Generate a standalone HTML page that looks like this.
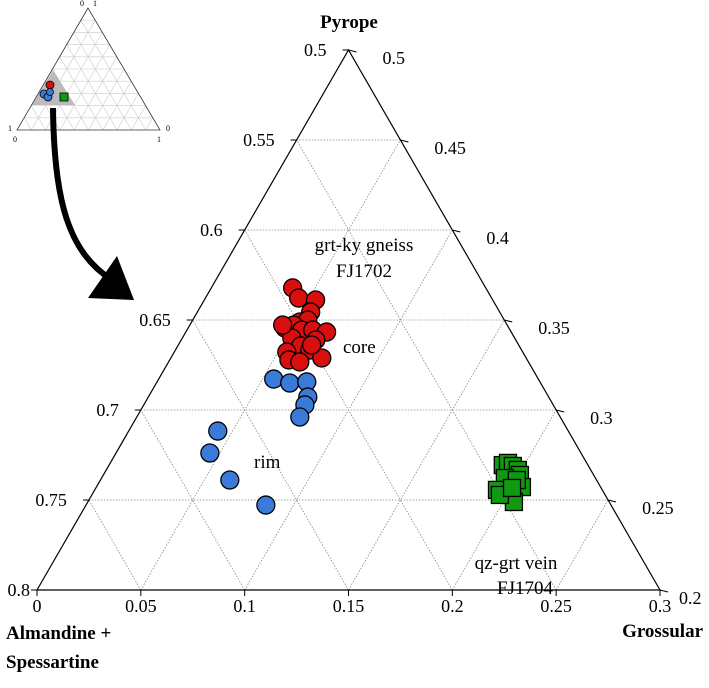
<!DOCTYPE html>
<html><head><meta charset="utf-8">
<style>
html,body{margin:0;padding:0;background:#fff;}
svg{display:block;font-family:"Liberation Serif",serif;}
</style></head>
<body>
<svg id="chart" width="709" height="688" viewBox="0 0 709 688" xmlns="http://www.w3.org/2000/svg">
<g id="inset"></g>
<path d="M53,108 C54,200 68,252 112,280" fill="none" stroke="#000" stroke-width="6"/>
<polygon points="88,298 134,300 117,256" fill="#000"/>
<g id="grid"></g>
<g id="axes"></g>
<g id="marks"></g>
<text x="349" y="28" text-anchor="middle" font-size="19" font-weight="bold">Pyrope</text>
<text x="6" y="639" font-size="19" font-weight="bold">Almandine +</text>
<text x="6" y="668" font-size="19" font-weight="bold">Spessartine</text>
<text x="703" y="637" text-anchor="end" font-size="19" font-weight="bold">Grossular</text>
<text x="364" y="251" text-anchor="middle" font-size="19">grt-ky gneiss</text>
<text x="364" y="277" text-anchor="middle" font-size="19">FJ1702</text>
<text x="343" y="353" font-size="19">core</text>
<text x="254" y="468" font-size="19">rim</text>
<text x="516" y="569" text-anchor="middle" font-size="19">qz-grt vein</text>
<text x="525" y="594" text-anchor="middle" font-size="19">FJ1704</text>
</svg>
<script>
// data: [grossular, pyrope]
const redG=[0.0392,0.0449,0.0536,0.0546,0.0521,0.0554,0.0465,0.0500,0.0553,0.0606,0.0678,0.0527,0.0648,0.0592,0.0542,0.0647,0.0727,0.0574,0.0632,0.0447,0.0642];
const redP=[0.3678,0.3622,0.3611,0.3544,0.3489,0.3500,0.3456,0.3472,0.3444,0.3444,0.3433,0.3400,0.3389,0.3356,0.3322,0.3333,0.3289,0.3278,0.3267,0.3472,0.3361];
const blueG=[0.0554,0.0642,0.0721,0.0768,0.0776,0.0785,0.0429,0.0452,0.0623,0.0866];
const blueP=[0.3172,0.3150,0.3156,0.3072,0.3028,0.2961,0.2883,0.2761,0.2611,0.2472];
const greenG=[0.1896,0.1915,0.1947,0.1982,0.2006,0.1942,0.1937,0.2013,0.2049,0.2052,0.1965,0.2005,0.2004];
const greenP=[0.2694,0.2706,0.2689,0.2667,0.2639,0.2622,0.2556,0.2528,0.2572,0.2489,0.2528,0.2611,0.2567];
const bottomTicks=["0","0.05","0.1","0.15","0.2","0.25","0.3"];
const leftTicks=["0.5","0.55","0.6","0.65","0.7","0.75","0.8"];
const rightTicks=["0.5","0.45","0.4","0.35","0.3","0.25","0.2"];

const NS="http://www.w3.org/2000/svg";
const BL=[37,590],BR=[660,590],AP=[348.5,50];
function pos(g,p){const u=g/0.3,t=(p-0.2)/0.3;
 return [BL[0]+u*(BR[0]-BL[0])+t*(AP[0]-BL[0]), BL[1]+t*(AP[1]-BL[1])];}
function mk(tag,attrs,parent){const e=document.createElementNS(NS,tag);for(const k in attrs)e.setAttribute(k,attrs[k]);parent.appendChild(e);return e;}
const grid=document.getElementById('grid'),axes=document.getElementById('axes'),marks=document.getElementById('marks');
for(let i=1;i<6;i++){
 const g=i*0.05,p=0.2+i*0.05;
 let a=pos(0,p),b=pos(0.3-(p-0.2),p);
 let l=mk('line',{x1:a[0],y1:a[1],x2:b[0],y2:b[1],stroke:'#888','stroke-width':0.8,'stroke-dasharray':'1.5,1.5'},grid);
 
 a=pos(g,0.2);b=pos(g,0.5-g);
 l=mk('line',{x1:a[0],y1:a[1],x2:b[0],y2:b[1],stroke:'#888','stroke-width':0.8,'stroke-dasharray':'1.5,1.5'},grid);
 
 a=pos(g,0.2);b=pos(0,0.2+g);
 l=mk('line',{x1:a[0],y1:a[1],x2:b[0],y2:b[1],stroke:'#888','stroke-width':0.8,'stroke-dasharray':'1.5,1.5'},grid);
 
}
const tri=mk('polygon',{points:[BL,BR,AP].map(p=>p.join(',')).join(' '),fill:'none',stroke:'#000','stroke-width':1.2},axes);

for(let i=0;i<7;i++){
 let a=pos(i*0.05,0.2);
 mk('line',{x1:a[0],y1:a[1],x2:a[0],y2:a[1]+6,stroke:'#000'},axes);
 let t=mk('text',{x:a[0],y:a[1]+22,'text-anchor':'middle','font-size':18},axes);t.textContent=bottomTicks[i];
 
 a=pos(0,0.5-i*0.05);
 mk('line',{x1:a[0],y1:a[1],x2:a[0]-6,y2:a[1],stroke:'#000'},axes);
 t=mk('text',{x:Math.max(a[0]-22,30),y:a[1]+6,'text-anchor':'end','font-size':18},axes);t.textContent=leftTicks[i];
 
 a=pos(i*0.05,0.5-i*0.05);
 mk('line',{x1:a[0],y1:a[1],x2:a[0]+8,y2:a[1]+2,stroke:'#000'},axes);
 t=mk('text',{x:Math.min(a[0]+34,679),y:a[1]+14,'text-anchor':'start','font-size':18},axes);t.textContent=rightTicks[i];
 
}
function circles(G,P,fill,name){for(let i=0;i<G.length;i++){const c=pos(G[i],P[i]);
 const e=mk('circle',{cx:c[0],cy:c[1],r:9,fill:fill,stroke:'#000','stroke-width':1.3},marks);
 }}
circles(redG,redP,'#d90e0e','core-point');
circles(blueG,blueP,'#3a7ad8','rim-point');
for(let i=0;i<greenG.length;i++){const c=pos(greenG[i],greenP[i]);
 const e=mk('rect',{x:c[0]-8.5,y:c[1]-8.5,width:17,height:17,fill:'#119911',stroke:'#000','stroke-width':1.3},marks);
 }
const ins=document.getElementById('inset');
const iA=[88,8],iL=[17,130],iR=[160,130];
function lerp(a,b,f){return [a[0]+(b[0]-a[0])*f,a[1]+(b[1]-a[1])*f];}
for(let i=1;i<10;i++){const f=i/10;
 const lines=[[lerp(iL,iA,f),lerp(iR,iA,f)],[lerp(iL,iR,f),lerp(iL,iA,f)],[lerp(iL,iR,f),lerp(iR,iA,1-f)]];
 lines.forEach(s=>mk('line',{x1:s[0][0],y1:s[0][1],x2:s[1][0],y2:s[1][1],stroke:'#ccc','stroke-width':0.6},ins));}
const sh=mk('polygon',{points:'53,70 32,105 75,105',fill:'#bbb'},ins);

mk('polygon',{points:'88,8 17,130 160,130',fill:'none',stroke:'#333','stroke-width':0.8},ins);
mk('circle',{cx:50,cy:85,r:4,fill:'#d90e0e',stroke:'#000','stroke-width':0.8},ins);
mk('circle',{cx:44,cy:94,r:4,fill:'#3a7ad8',stroke:'#000','stroke-width':0.8},ins);
mk('circle',{cx:48,cy:97,r:4,fill:'#3a7ad8',stroke:'#000','stroke-width':0.8},ins);
mk('circle',{cx:50,cy:92,r:3.5,fill:'#3a7ad8',stroke:'#000','stroke-width':0.8},ins);
mk('rect',{x:60,y:93,width:8,height:8,fill:'#119911',stroke:'#000','stroke-width':0.8},ins);
[[82,6,'0'],[95,6,'1'],[10,131,'1'],[15,142,'0'],[168,131,'0'],[159,142,'1']].forEach(d=>{
 const t=mk('text',{x:d[0],y:d[1],'font-size':8,'text-anchor':'middle'},ins);t.textContent=d[2];
 });
</script>
</body></html>
